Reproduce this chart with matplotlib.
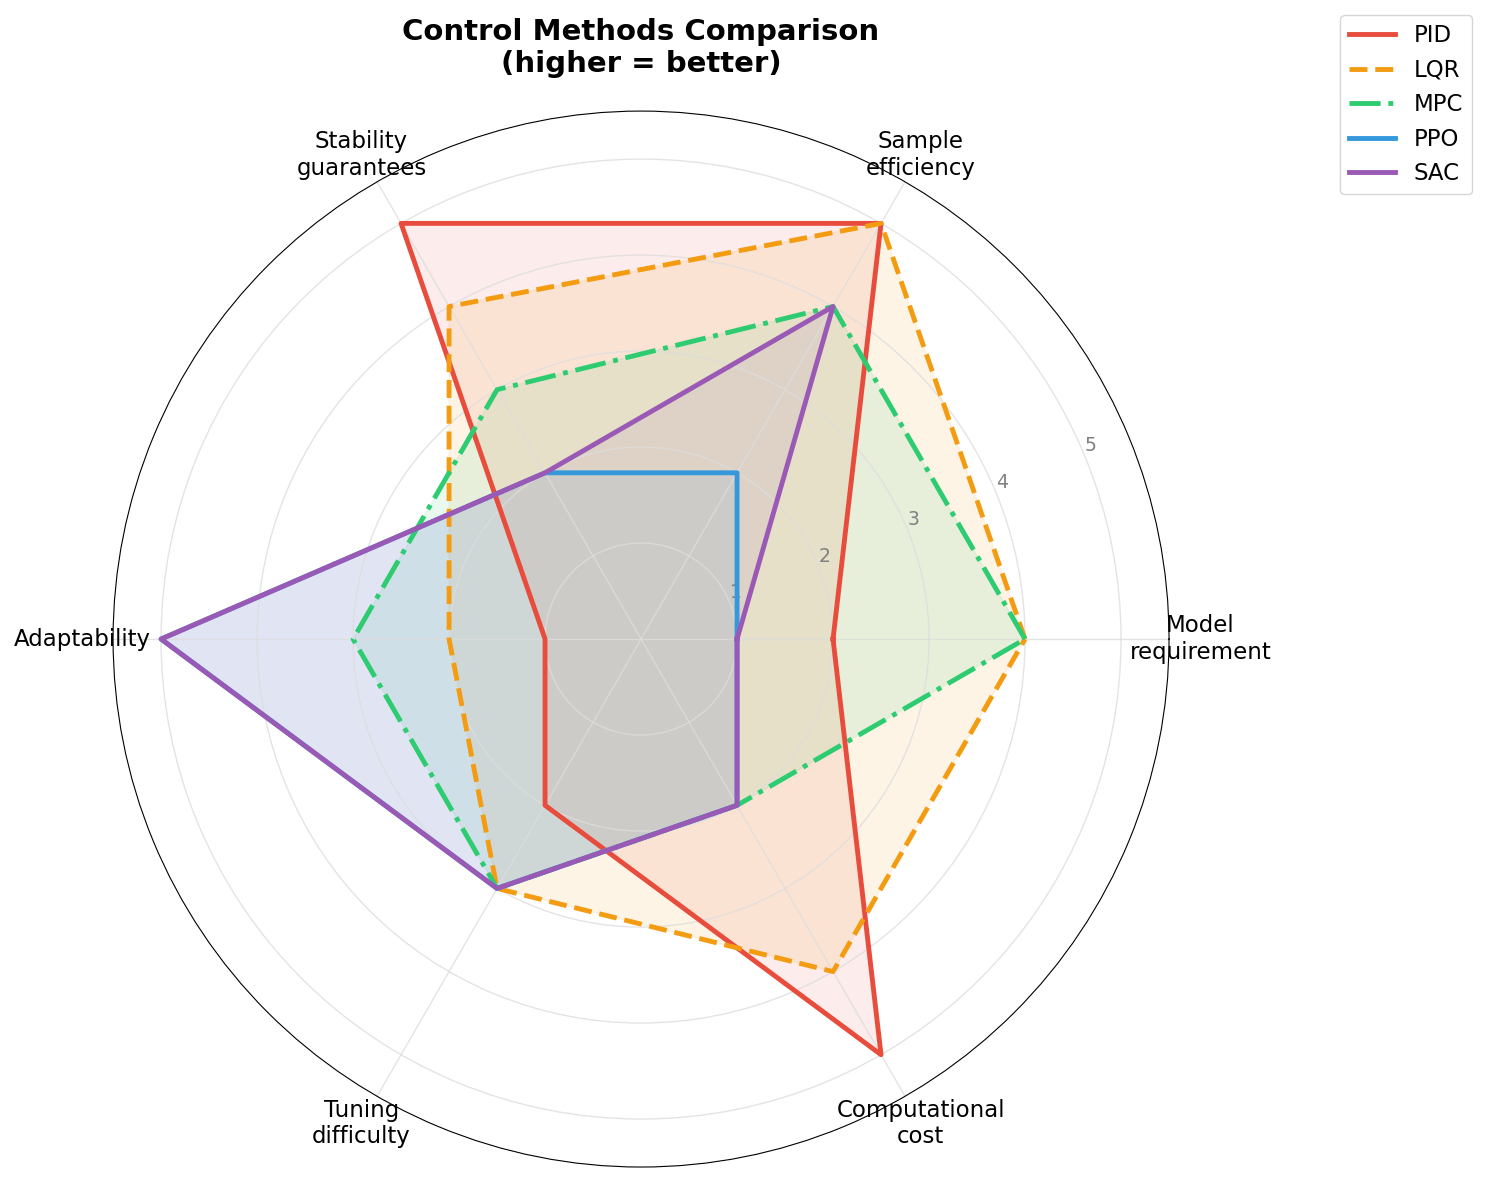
import numpy as np
import matplotlib.pyplot as plt

categories = ["Model\nrequirement", "Sample\nefficiency", "Stability\nguarantees",
              "Adaptability", "Tuning\ndifficulty", "Computational\ncost"]
methods = ["PID", "LQR", "MPC", "PPO", "SAC"]
pid = [2, 5, 5, 1, 2, 5]
lqr = [4, 5, 4, 2, 3, 4]
mpc = [4, 4, 3, 3, 3, 2]
ppo = [1, 2, 2, 5, 3, 2]
sac = [1, 4, 2, 5, 3, 2]
scores = [pid, lqr, mpc, ppo, sac]

colors = ["#e74c3c", "#f39c12", "#2ecc71", "#3498db", "#9b59b6"]
styles = ["-", "--", "-.", "-", "-"]

angles = np.linspace(0, 2 * np.pi, len(categories), endpoint=False).tolist()
angles += angles[:1]

fig = plt.figure(figsize=(14.91, 11.83), dpi=100)
ax = fig.add_axes([0.0758, 0.0135, 0.7083, 0.8926], polar=True)

for name, vals, c, ls in zip(methods, scores, colors, styles):
    v = vals + vals[:1]
    ax.plot(angles, v, color=c, linestyle=ls, linewidth=3.5, label=name)
    ax.fill(angles, v, color=c, alpha=0.1)

ax.set_xticks(angles[:-1])
ax.set_xticklabels(categories, fontsize=16.5)
ax.tick_params(axis="x", pad=12)
ax.set_ylim(0, 5.5)
ax.set_yticks([1, 2, 3, 4, 5])
ax.set_yticklabels(["1", "2", "3", "4", "5"], fontsize=13.5, color="gray")
ax.set_rlabel_position(22.5)
ax.grid(color="#dddddd", alpha=0.8, linewidth=1)

ax.set_title("Control Methods Comparison\n(higher = better)", fontsize=21,
             fontweight="bold", pad=28)
fig.legend(loc="upper right", bbox_to_anchor=(0.995, 0.997), fontsize=16.5)

fig.savefig("out.png", dpi=100)
